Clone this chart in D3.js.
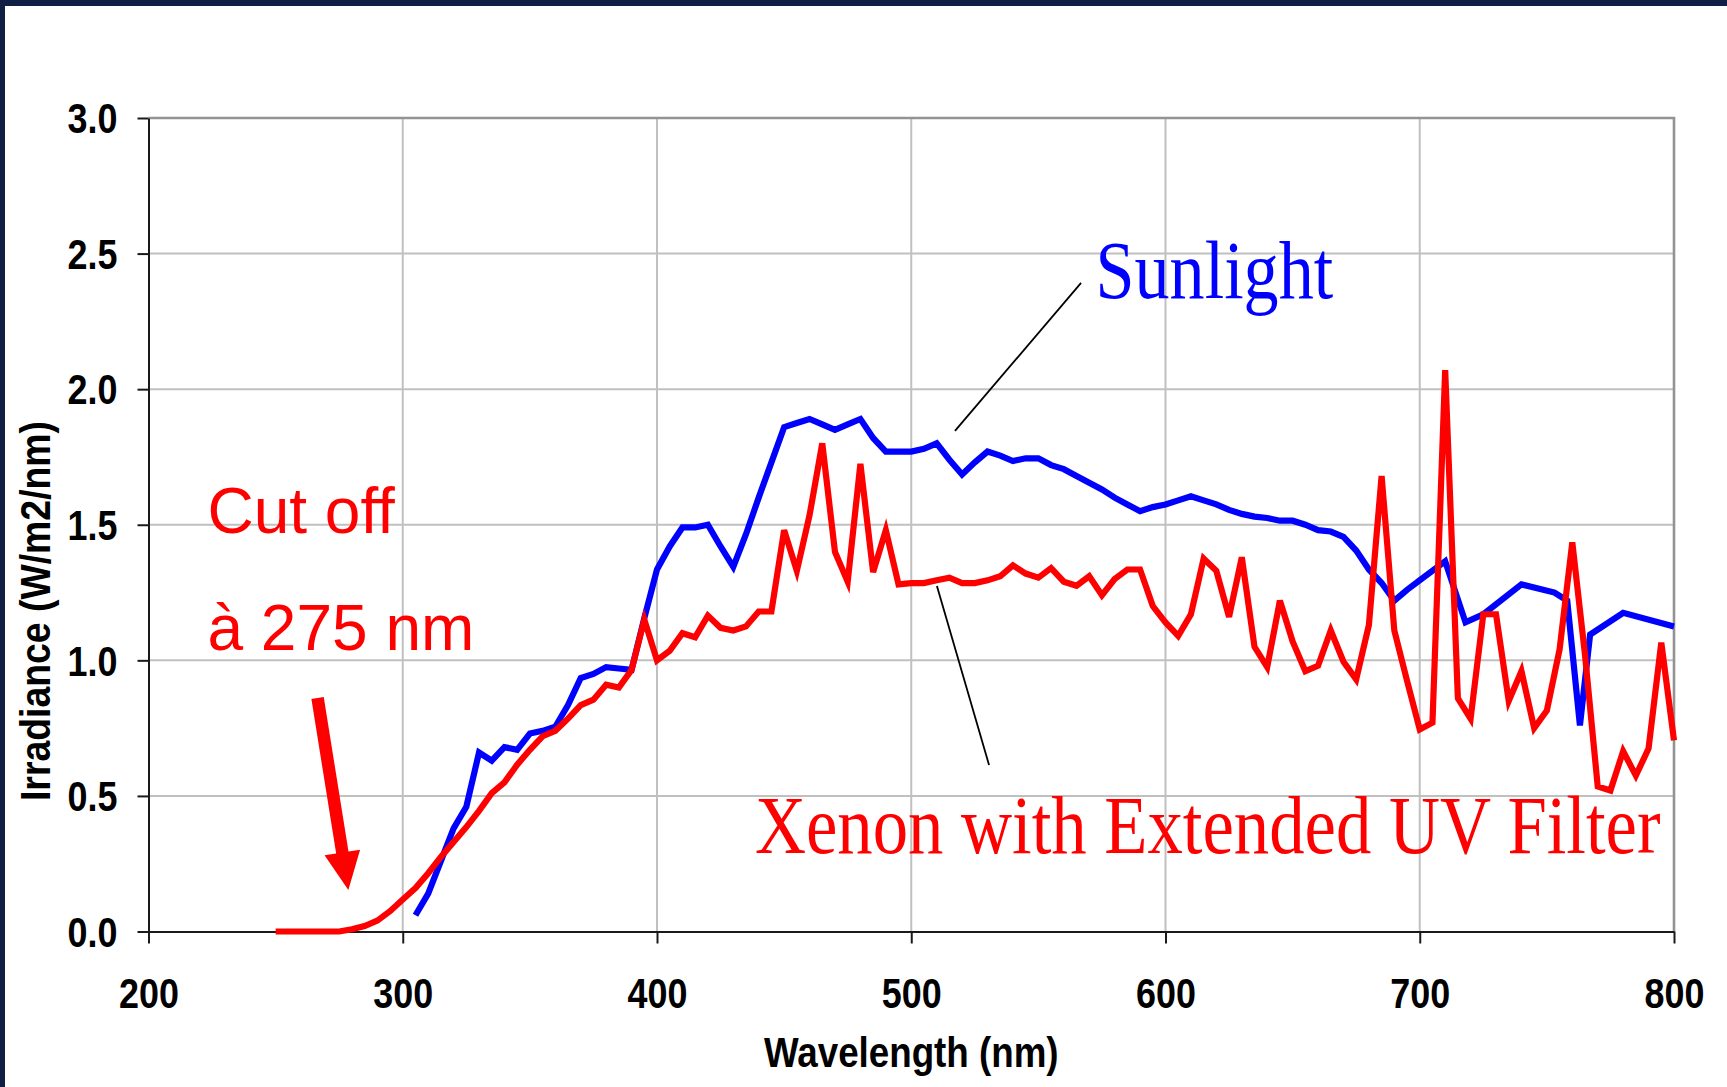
<!DOCTYPE html>
<html>
<head>
<meta charset="utf-8">
<script src="https://cdn.jsdelivr.net/npm/d3@7"></script>
<style>
  body { margin: 0; background: #fff; }
  svg { display: block; }
  .axis text, .axis-title {
    font-family: "Liberation Sans", Arial, sans-serif;
    font-weight: bold;
    font-size: 42px;
    fill: #000;
  }
  .axis path, .axis line { stroke: #1a1a1a; stroke-width: 2; }
  .grid { stroke: #c0c0c0; stroke-width: 2; }
  .border { stroke: #939393; stroke-width: 2.6; fill: none; }
  .serie { fill: none; stroke-width: 6.2; }
  .label-serif { font-family: "Liberation Serif", "Times New Roman", serif; font-size: 82px; }
  .cutoff { font-family: "Liberation Sans", Arial, sans-serif; font-size: 64px; fill: #ff0000; }
  .leader { stroke: #000; stroke-width: 1.8; }
</style>
</head>
<body>
<svg class="chart"></svg>
<script>
// sunlight spectrum (nm, W/m2/nm)
var sunWl = [305, 310, 315, 320, 325, 330, 335, 340, 345, 350, 355, 360, 365, 370, 375, 380, 385, 390, 395,
  400, 405, 410, 415, 420, 425, 430, 435, 440, 445, 450, 455, 460, 465, 470, 475, 480, 485, 490, 495,
  500, 505, 510, 515, 520, 525, 530, 535, 540, 545, 550, 555, 560, 565, 570, 575, 580, 585, 590, 595,
  600, 605, 610, 615, 620, 625, 630, 635, 640, 645, 650, 655, 660, 665, 670, 675, 680, 685, 690, 695,
  700, 705, 710, 718, 725, 740, 753, 758, 763, 767, 780, 800];
var sunVal = [0.06, 0.14, 0.26, 0.38, 0.46, 0.66, 0.63, 0.68, 0.67, 0.73, 0.74, 0.755, 0.835, 0.935, 0.95, 0.975, 0.97, 0.965, 1.155,
  1.335, 1.42, 1.49, 1.49, 1.50, 1.42, 1.345, 1.465, 1.60, 1.73, 1.86, 1.875, 1.89, 1.87, 1.85, 1.87, 1.89, 1.82, 1.77, 1.77,
  1.77, 1.78, 1.80, 1.74, 1.685, 1.73, 1.77, 1.755, 1.735, 1.745, 1.745, 1.72, 1.705, 1.68, 1.655, 1.63, 1.60, 1.575, 1.55, 1.565,
  1.575, 1.59, 1.605, 1.59, 1.575, 1.555, 1.54, 1.53, 1.525, 1.515, 1.515, 1.50, 1.48, 1.475, 1.455, 1.405, 1.335, 1.285, 1.22, 1.26,
  1.295, 1.33, 1.365, 1.14, 1.17, 1.28, 1.25, 1.22, 0.76, 1.095, 1.175, 1.125];

// xenon arc with extended UV filter
var xenonWl = [250, 255, 260, 265, 270, 275, 280, 285, 290, 295, 300, 305, 310, 315, 320, 325, 330, 335, 340, 345,
  350, 355, 360, 365, 370, 375, 380, 385, 390, 395, 400, 405, 410, 415, 420, 425, 430, 435, 440, 445,
  450, 455, 460, 465, 470, 475, 480, 485, 490, 495, 500, 505, 510, 515, 520, 525, 530, 535, 540, 545,
  550, 555, 560, 565, 570, 575, 580, 585, 590, 595, 600, 605, 610, 615, 620, 625, 630, 635, 640, 645,
  650, 655, 660, 665, 670, 675, 680, 685, 690, 695, 700, 705, 710, 715, 720, 725, 730, 735, 740, 745,
  750, 755, 760, 765, 770, 775, 780, 785, 790, 795, 800];
var xenonVal = [0, 0, 0, 0, 0, 0, 0.008, 0.02, 0.04, 0.075, 0.118, 0.16, 0.215, 0.275, 0.33, 0.385, 0.445, 0.51, 0.55, 0.615,
  0.67, 0.72, 0.74, 0.785, 0.835, 0.855, 0.91, 0.90, 0.965, 1.15, 1.00, 1.035, 1.10, 1.085, 1.165, 1.12, 1.11, 1.125, 1.18, 1.18,
  1.48, 1.33, 1.535, 1.80, 1.40, 1.29, 1.725, 1.325, 1.48, 1.28, 1.285, 1.285, 1.295, 1.305, 1.285, 1.285, 1.295, 1.31, 1.35, 1.32,
  1.305, 1.34, 1.29, 1.275, 1.31, 1.24, 1.30, 1.335, 1.335, 1.20, 1.14, 1.09, 1.17, 1.375, 1.33, 1.16, 1.38, 1.05, 0.975, 1.22,
  1.07, 0.96, 0.98, 1.11, 0.995, 0.93, 1.13, 1.68, 1.11, 0.925, 0.745, 0.77, 2.07, 0.86, 0.785, 1.17, 1.17, 0.85, 0.96, 0.75,
  0.815, 1.04, 1.435, 1.02, 0.535, 0.52, 0.665, 0.575, 0.675, 1.065, 0.705];

var xTicks = [200, 300, 400, 500, 600, 700, 800];
var yTicks = [0, 0.5, 1.0, 1.5, 2.0, 2.5, 3.0];

var margin = {top: 118, right: 53, bottom: 155.5, left: 148.5},
    width = 1727 - margin.left - margin.right,
    height = 1087 - margin.top - margin.bottom;

var squeeze = 0.855;   // the original slide had its chart text narrowed

var x = d3.scaleLinear()
    .domain([200, 800])
    .range([0, width]);

var y = d3.scaleLinear()
    .domain([0, 3])
    .range([height, 0]);

var svg = d3.select(".chart")
    .attr("width", 1727)
    .attr("height", 1087);

// dark slide frame, top and left only
svg.append("rect")
    .attr("x", 0).attr("y", 0)
    .attr("width", 1727).attr("height", 6)
    .attr("fill", "#111f44");
svg.append("rect")
    .attr("x", 0).attr("y", 0)
    .attr("width", 5).attr("height", 1087)
    .attr("fill", "#111f44");

var chart = svg.append("g")
    .attr("transform", "translate(" + margin.left + "," + margin.top + ")");

// grid
chart.selectAll(".hgrid")
    .data(yTicks.filter(function(d) { return d > 0 && d < 3; }))
    .enter().append("line")
      .attr("class", "grid hgrid")
      .attr("x1", 0)
      .attr("x2", width)
      .attr("y1", function(d) { return y(d); })
      .attr("y2", function(d) { return y(d); });

chart.selectAll(".vgrid")
    .data(xTicks.filter(function(d) { return d > 200 && d < 800; }))
    .enter().append("line")
      .attr("class", "grid vgrid")
      .attr("y1", 0)
      .attr("y2", height)
      .attr("x1", function(d) { return x(d); })
      .attr("x2", function(d) { return x(d); });

// plot area border (top + right)
chart.append("path")
    .attr("class", "border")
    .attr("d", "M0," + y(3) + "H" + x(800) + "V" + y(0));

// axes
var yAxis = d3.axisLeft(y)
    .tickValues(yTicks)
    .tickSize(11)
    .tickSizeOuter(0)
    .tickFormat(d3.format(".1f"));

var xAxis = d3.axisBottom(x)
    .tickValues(xTicks)
    .tickSize(12)
    .tickSizeOuter(0)
    .tickFormat(d3.format("d"));

chart.append("g")
    .attr("class", "y axis")
    .call(yAxis)
  .selectAll("text")
    .attr("x", -31 / squeeze)
    .attr("dy", "0.35em")
    .attr("transform", "scale(" + squeeze + ",1)");

chart.append("g")
    .attr("class", "x axis")
    .attr("transform", "translate(0," + height + ")")
    .call(xAxis)
  .selectAll("text")
    .attr("y", 46.5)
    .attr("dy", "0.71em")
    .attr("transform", "scale(" + squeeze + ",1)");

chart.selectAll(".axis .domain").attr("stroke-width", 2.2);

chart.append("text")
    .attr("class", "axis-title")
    .attr("text-anchor", "middle")
    .attr("transform", "translate(" + (width / 2) + "," + (height + 135.5) + ") scale(0.875,1)")
    .text("Wavelength (nm)");

chart.append("text")
    .attr("class", "axis-title")
    .attr("text-anchor", "middle")
    .attr("transform", "translate(-98.5,493) rotate(-90) scale(0.89,1)")
    .text("Irradiance (W/m2/nm)");

// series
var line = d3.line()
    .x(function(d) { return x(d[0]); })
    .y(function(d) { return y(d[1]); });

var series = [
  {key: "Sunlight", color: "#0000ff", values: d3.zip(sunWl, sunVal)},
  {key: "Xenon", color: "#ff0000", values: d3.zip(xenonWl, xenonVal)}
];

chart.selectAll(".serie")
    .data(series)
    .enter().append("path")
      .attr("class", "serie")
      .attr("stroke", function(d) { return d.color; })
      .attr("d", function(d) { return line(d.values); });

// labels with leader lines (placed in data units)
chart.append("line")
    .attr("class", "leader")
    .attr("x1", x(517.2)).attr("y1", y(1.846))
    .attr("x2", x(566.8)).attr("y2", y(2.392));

chart.append("line")
    .attr("class", "leader")
    .attr("x1", x(510.1)).attr("y1", y(1.274))
    .attr("x2", x(530.6)).attr("y2", y(0.614));

chart.append("text")
    .attr("class", "label-serif")
    .attr("fill", "#0000ff")
    .attr("transform", "translate(" + x(572.5) + "," + y(2.336) + ") scale(" + squeeze + ",1)")
    .text("Sunlight");

chart.append("text")
    .attr("class", "label-serif")
    .attr("fill", "#ff0000")
    .attr("transform", "translate(" + x(438.5) + "," + y(0.2895) + ") scale(0.862,1)")
    .text("Xenon with Extended UV Filter");

chart.append("text")
    .attr("class", "cutoff")
    .attr("x", x(223.2))
    .attr("y", y(1.47))
    .text("Cut off");

chart.append("text")
    .attr("class", "cutoff")
    .attr("x", x(223.2))
    .attr("y", y(1.038))
    .text("à 275 nm");

// cut-off arrow
function arrowPath(from, to, shaft, headLen, headW) {
  var p0 = [x(from[0]), y(from[1])],
      p1 = [x(to[0]), y(to[1])],
      dx = p1[0] - p0[0], dy = p1[1] - p0[1],
      len = Math.sqrt(dx * dx + dy * dy),
      ux = dx / len, uy = dy / len,
      nx = -uy, ny = ux,
      b = [p1[0] - ux * headLen, p1[1] - uy * headLen];
  var pts = [
    [p0[0] + nx * shaft / 2, p0[1] + ny * shaft / 2],
    [b[0] + nx * shaft / 2, b[1] + ny * shaft / 2],
    [b[0] + nx * headW / 2, b[1] + ny * headW / 2],
    p1,
    [b[0] - nx * headW / 2, b[1] - ny * headW / 2],
    [b[0] - nx * shaft / 2, b[1] - ny * shaft / 2],
    [p0[0] - nx * shaft / 2, p0[1] - ny * shaft / 2]
  ];
  return "M" + pts.join("L") + "Z";
}

chart.append("path")
    .attr("fill", "#ff0000")
    .attr("d", arrowPath([266.5, 0.861], [278.6, 0.153], 12.5, 38, 36));
</script>
</body>
</html>
